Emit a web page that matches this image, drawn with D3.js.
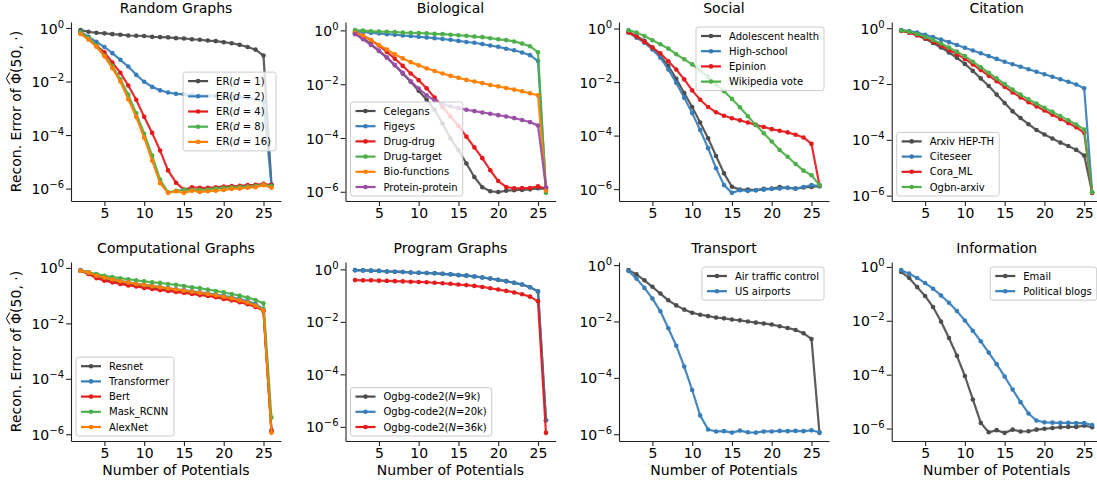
<!DOCTYPE html>
<html><head><meta charset="utf-8">
<script src="https://cdn.jsdelivr.net/npm/d3@7"></script>
<style>
body{margin:0;background:#fff}
svg{display:block}
text{font-family:"DejaVu Sans",sans-serif;fill:#000}
</style>
</head><body>
<svg id="chart" width="1097" height="486"></svg>
<script>
// ---------- data (values are log10 of the reconstruction error) ----------
const potentials = [2,3,4,5,6,7,8,9,10,11,12,13,14,15,16,17,18,19,20,21,22,23,24,25,26];
const xTickValues = [5,10,15,20,25];
const yTickExponents = [0,-2,-4,-6];
const panelTitles = ["Random Graphs","Biological","Social","Citation","Computational Graphs","Program Graphs","Transport","Information"];

// Random Graphs
const erD1Log10  = [-0.08,-0.14,-0.18,-0.2,-0.23,-0.25,-0.28,-0.29,-0.3,-0.33,-0.34,-0.35,-0.38,-0.39,-0.42,-0.44,-0.47,-0.49,-0.53,-0.57,-0.63,-0.71,-0.81,-1.03,-5.86];
const erD2Log10  = [-0.14,-0.33,-0.52,-0.71,-0.94,-1.19,-1.44,-1.75,-2.01,-2.2,-2.33,-2.41,-2.46,-2.48,-2.51,-2.52,-2.53,-2.54,-2.56,-2.57,-2.58,-2.61,-2.67,-2.76,-5.86];
const erD4Log10  = [-0.18,-0.41,-0.66,-0.91,-1.29,-1.67,-2.15,-2.68,-3.32,-3.92,-4.58,-5.32,-5.78,-6.04,-5.95,-5.97,-5.97,-5.95,-5.92,-5.91,-5.9,-5.87,-5.86,-5.82,-5.87];
const erD8Log10  = [-0.15,-0.38,-0.66,-1.04,-1.42,-1.92,-2.49,-3.19,-3.95,-4.77,-5.66,-6.14,-6.08,-6.05,-6.05,-6.05,-6.04,-6.0,-5.97,-5.95,-5.94,-5.92,-5.91,-5.85,-5.91];
const erD16Log10 = [-0.22,-0.43,-0.7,-1.06,-1.5,-2.0,-2.66,-3.33,-4.1,-4.96,-5.8,-6.16,-6.1,-6.16,-6.08,-6.13,-6.1,-6.08,-6.05,-6.01,-6.0,-5.97,-5.95,-5.87,-5.97];
// Biological
const celegansLog10       = [-0.11,-0.29,-0.51,-0.76,-1.01,-1.29,-1.61,-1.91,-2.24,-2.58,-2.95,-3.46,-4.01,-4.45,-4.95,-5.45,-5.83,-5.98,-6.01,-5.96,-5.94,-5.93,-5.91,-5.87,-5.88];
const figeysLog10         = [-0.04,-0.06,-0.09,-0.11,-0.14,-0.16,-0.19,-0.21,-0.24,-0.26,-0.29,-0.32,-0.35,-0.39,-0.43,-0.46,-0.51,-0.56,-0.61,-0.68,-0.74,-0.82,-0.92,-1.14,-5.85];
const drugDrugLog10       = [-0.08,-0.2,-0.36,-0.56,-0.8,-1.05,-1.32,-1.6,-1.85,-2.15,-2.5,-2.85,-3.2,-3.55,-3.95,-4.35,-4.75,-5.2,-5.6,-5.82,-5.87,-5.86,-5.86,-5.8,-5.88];
const drugTargetLog10     = [0.01,-0.01,-0.03,-0.04,-0.05,-0.06,-0.08,-0.09,-0.1,-0.11,-0.13,-0.14,-0.16,-0.18,-0.2,-0.23,-0.25,-0.29,-0.33,-0.36,-0.41,-0.49,-0.59,-0.81,-6.04];
const bioFunctionsLog10   = [-0.09,-0.2,-0.36,-0.54,-0.71,-0.89,-1.04,-1.18,-1.3,-1.41,-1.51,-1.6,-1.69,-1.76,-1.84,-1.9,-1.96,-2.03,-2.08,-2.14,-2.2,-2.26,-2.34,-2.41,-5.95];
const proteinProteinLog10 = [-0.14,-0.33,-0.54,-0.76,-1.01,-1.29,-1.58,-1.89,-2.16,-2.41,-2.61,-2.74,-2.83,-2.89,-2.95,-3.0,-3.05,-3.1,-3.15,-3.2,-3.26,-3.33,-3.41,-3.54,-5.83];
// Social
const adolescentLog10 = [-0.13,-0.28,-0.46,-0.71,-1.03,-1.4,-1.88,-2.41,-2.93,-3.51,-4.1,-4.76,-5.41,-5.91,-6.02,-6.02,-6.04,-5.99,-5.98,-5.92,-5.95,-5.98,-5.94,-5.92,-5.89];
const highSchoolLog10 = [-0.15,-0.34,-0.53,-0.78,-1.09,-1.53,-2.03,-2.59,-3.16,-3.79,-4.47,-5.22,-5.85,-6.14,-6.04,-6.07,-6.04,-6.02,-5.99,-5.98,-5.95,-5.98,-5.92,-5.85,-5.89];
const epinionLog10    = [-0.15,-0.3,-0.5,-0.71,-0.93,-1.22,-1.53,-1.9,-2.31,-2.66,-2.93,-3.13,-3.26,-3.35,-3.43,-3.51,-3.6,-3.68,-3.76,-3.82,-3.88,-3.97,-4.07,-4.31,-5.85];
const wikiVoteLog10   = [-0.06,-0.15,-0.28,-0.44,-0.59,-0.75,-0.96,-1.15,-1.34,-1.57,-1.8,-2.09,-2.34,-2.63,-2.94,-3.28,-3.6,-3.91,-4.22,-4.54,-4.79,-5.06,-5.31,-5.48,-5.85];
// Citation
const arxivHepThLog10 = [-0.08,-0.15,-0.25,-0.38,-0.53,-0.69,-0.87,-1.06,-1.28,-1.53,-1.8,-2.07,-2.38,-2.68,-2.98,-3.22,-3.44,-3.65,-3.81,-3.95,-4.1,-4.22,-4.36,-4.56,-5.89];
const citeseerLog10   = [-0.07,-0.1,-0.16,-0.24,-0.32,-0.41,-0.5,-0.6,-0.7,-0.8,-0.9,-1.0,-1.1,-1.2,-1.29,-1.38,-1.47,-1.56,-1.65,-1.74,-1.83,-1.92,-2.02,-2.15,-5.89];
const coraMlLog10     = [-0.1,-0.16,-0.25,-0.36,-0.48,-0.62,-0.77,-0.93,-1.1,-1.3,-1.5,-1.7,-1.9,-2.1,-2.3,-2.48,-2.65,-2.8,-2.95,-3.1,-3.25,-3.4,-3.55,-3.75,-5.9];
const ogbnArxivLog10  = [-0.08,-0.13,-0.21,-0.31,-0.42,-0.55,-0.69,-0.84,-1.0,-1.2,-1.4,-1.6,-1.8,-2.0,-2.2,-2.38,-2.55,-2.7,-2.85,-3.0,-3.15,-3.3,-3.45,-3.63,-5.88];
// Computational Graphs
const resnetLog10      = [-0.1,-0.2,-0.33,-0.42,-0.48,-0.54,-0.59,-0.63,-0.68,-0.72,-0.76,-0.79,-0.83,-0.87,-0.9,-0.94,-0.98,-1.02,-1.07,-1.13,-1.19,-1.27,-1.37,-1.55,-5.9];
const transformerLog10 = [-0.08,-0.16,-0.26,-0.34,-0.41,-0.47,-0.52,-0.57,-0.61,-0.65,-0.69,-0.73,-0.77,-0.8,-0.84,-0.88,-0.92,-0.96,-1.01,-1.06,-1.12,-1.2,-1.3,-1.5,-5.85];
const bertLog10        = [-0.1,-0.22,-0.37,-0.46,-0.52,-0.58,-0.63,-0.67,-0.72,-0.76,-0.8,-0.83,-0.87,-0.9,-0.94,-0.98,-1.01,-1.06,-1.12,-1.17,-1.24,-1.31,-1.41,-1.54,-5.88];
const maskRcnnLog10    = [-0.1,-0.16,-0.22,-0.28,-0.33,-0.37,-0.41,-0.45,-0.48,-0.52,-0.54,-0.58,-0.61,-0.65,-0.7,-0.73,-0.78,-0.83,-0.88,-0.94,-1.0,-1.07,-1.16,-1.28,-5.4];
const alexNetLog10     = [-0.1,-0.17,-0.28,-0.35,-0.42,-0.48,-0.53,-0.58,-0.62,-0.66,-0.7,-0.74,-0.78,-0.82,-0.86,-0.9,-0.94,-0.99,-1.04,-1.1,-1.17,-1.25,-1.36,-1.53,-5.95];
// Program Graphs
const code2N9kLog10  = [-0.03,-0.04,-0.05,-0.06,-0.08,-0.09,-0.1,-0.12,-0.13,-0.14,-0.15,-0.17,-0.19,-0.22,-0.24,-0.27,-0.31,-0.35,-0.4,-0.45,-0.51,-0.58,-0.68,-0.84,-5.75];
const code2N20kLog10 = [-0.03,-0.04,-0.05,-0.06,-0.08,-0.09,-0.1,-0.12,-0.13,-0.14,-0.15,-0.17,-0.19,-0.22,-0.24,-0.27,-0.31,-0.35,-0.4,-0.45,-0.51,-0.58,-0.68,-0.84,-5.75];
const code2N36kLog10 = [-0.41,-0.42,-0.42,-0.43,-0.44,-0.45,-0.46,-0.47,-0.48,-0.49,-0.51,-0.53,-0.55,-0.58,-0.6,-0.63,-0.67,-0.72,-0.77,-0.82,-0.88,-0.95,-1.04,-1.22,-6.23];
// Transport
const airTrafficLog10 = [-0.18,-0.33,-0.54,-0.77,-1.01,-1.25,-1.43,-1.58,-1.69,-1.76,-1.81,-1.86,-1.89,-1.93,-1.96,-2.0,-2.04,-2.07,-2.11,-2.17,-2.23,-2.3,-2.42,-2.62,-5.95];
const usAirportsLog10 = [-0.21,-0.48,-0.81,-1.19,-1.64,-2.24,-2.86,-3.6,-4.43,-5.33,-5.83,-5.9,-5.89,-5.94,-5.87,-5.93,-5.94,-5.9,-5.9,-5.88,-5.89,-5.88,-5.89,-5.86,-5.93];
// Information
const emailLog10          = [-0.19,-0.41,-0.75,-1.08,-1.49,-2.03,-2.64,-3.3,-4.05,-4.92,-5.79,-6.14,-6.06,-6.16,-6.04,-6.11,-6.1,-6.04,-6.01,-5.98,-5.95,-5.94,-5.94,-5.89,-5.95];
const politicalBlogsLog10 = [-0.12,-0.25,-0.41,-0.6,-0.81,-1.06,-1.33,-1.64,-1.99,-2.37,-2.76,-3.18,-3.61,-4.07,-4.55,-5.02,-5.44,-5.7,-5.77,-5.78,-5.79,-5.79,-5.8,-5.8,-5.87];

// ---------- styles ----------
const C = {grey:"#4d4d4d", blue:"#377eb8", red:"#e41a1c", green:"#4daf4a", orange:"#ff7f00", purple:"#984ea3"};
const it = s => ({t:s, i:true});
const tx = s => ({t:s, i:false});

const panels = [
  {title:panelTitles[0], legend:"center right", series:[
    {label:[tx("ER("),it("d"),tx(" = 1)")], color:C.grey, v:erD1Log10},
    {label:[tx("ER("),it("d"),tx(" = 2)")], color:C.blue, v:erD2Log10},
    {label:[tx("ER("),it("d"),tx(" = 4)")], color:C.red, v:erD4Log10},
    {label:[tx("ER("),it("d"),tx(" = 8)")], color:C.green, v:erD8Log10},
    {label:[tx("ER("),it("d"),tx(" = 16)")], color:C.orange, v:erD16Log10}]},
  {title:panelTitles[1], legend:"lower left", series:[
    {label:[tx("Celegans")], color:C.grey, v:celegansLog10},
    {label:[tx("Figeys")], color:C.blue, v:figeysLog10},
    {label:[tx("Drug-drug")], color:C.red, v:drugDrugLog10},
    {label:[tx("Drug-target")], color:C.green, v:drugTargetLog10},
    {label:[tx("Bio-functions")], color:C.orange, v:bioFunctionsLog10},
    {label:[tx("Protein-protein")], color:C.purple, v:proteinProteinLog10}]},
  {title:panelTitles[2], legend:"upper right", series:[
    {label:[tx("Adolescent health")], color:C.grey, v:adolescentLog10},
    {label:[tx("High-school")], color:C.blue, v:highSchoolLog10},
    {label:[tx("Epinion")], color:C.red, v:epinionLog10},
    {label:[tx("Wikipedia vote")], color:C.green, v:wikiVoteLog10}]},
  {title:panelTitles[3], legend:"lower left", series:[
    {label:[tx("Arxiv HEP-TH")], color:C.grey, v:arxivHepThLog10},
    {label:[tx("Citeseer")], color:C.blue, v:citeseerLog10},
    {label:[tx("Cora_ML")], color:C.red, v:coraMlLog10},
    {label:[tx("Ogbn-arxiv")], color:C.green, v:ogbnArxivLog10}]},
  {title:panelTitles[4], legend:"lower left", series:[
    {label:[tx("Resnet")], color:C.grey, v:resnetLog10},
    {label:[tx("Transformer")], color:C.blue, v:transformerLog10},
    {label:[tx("Bert")], color:C.red, v:bertLog10},
    {label:[tx("Mask_RCNN")], color:C.green, v:maskRcnnLog10},
    {label:[tx("AlexNet")], color:C.orange, v:alexNetLog10}]},
  {title:panelTitles[5], legend:"lower left", series:[
    {label:[tx("Ogbg-code2("),it("N"),tx("=9k)")], color:C.grey, v:code2N9kLog10},
    {label:[tx("Ogbg-code2("),it("N"),tx("=20k)")], color:C.blue, v:code2N20kLog10},
    {label:[tx("Ogbg-code2("),it("N"),tx("=36k)")], color:C.red, v:code2N36kLog10}]},
  {title:panelTitles[6], legend:"upper right", series:[
    {label:[tx("Air traffic control")], color:C.grey, v:airTrafficLog10},
    {label:[tx("US airports")], color:C.blue, v:usAirportsLog10}]},
  {title:panelTitles[7], legend:"upper right", series:[
    {label:[tx("Email")], color:C.grey, v:emailLog10},
    {label:[tx("Political blogs")], color:C.blue, v:politicalBlogsLog10}]}
];

// ---------- layout ----------
const colLeft = [71, 345.5, 619, 891.7];
const rowTop = [22, 262];
const W = 210, H = 179;
const svg = d3.select("#chart");

panels.forEach((p, idx) => {
  const col = idx % 4, row = Math.floor(idx / 4);
  const left = colLeft[col], top = rowTop[row];
  const g = svg.append("g");

  const all = p.series.flatMap(s => s.v);
  const lo = d3.min(all), hi = d3.max(all), pad = (hi - lo) * 0.05;
  const x = d3.scaleLinear().domain([0.8, 27.2]).range([left, left + W]);
  const y = d3.scaleLog().domain([Math.pow(10, lo - pad), Math.pow(10, hi + pad)]).range([top + H, top]);

  // axes
  const gx = g.append("g").attr("transform", `translate(0,${top + H})`)
    .call(d3.axisBottom(x).tickValues(xTickValues).tickSize(4.9).tickSizeOuter(0).tickPadding(2.2));
  gx.selectAll("text").attr("font-size", 14).attr("font-family", "DejaVu Sans");
  const gy = g.append("g").attr("transform", `translate(${left},0)`)
    .call(d3.axisLeft(y).tickValues(yTickExponents.map(e => Math.pow(10, e))).tickSize(4.9).tickSizeOuter(0).tickPadding(2.1).tickFormat(() => ""));
  gy.selectAll(".tick text").each(function(d) {
    const t = d3.select(this).attr("font-size", 14).attr("font-family", "DejaVu Sans").attr("dy", "0.36em").text(null);
    const e = Math.round(Math.log10(d));
    t.append("tspan").text("10");
    t.append("tspan").attr("font-size", 10).attr("dy", -6).text(e === 0 ? "0" : "\u2212" + Math.abs(e));
  });
  [gx, gy].forEach(a => {
    a.select(".domain").attr("stroke", "#222").attr("stroke-width", 1.1);
    a.selectAll(".tick line").attr("stroke", "#222").attr("stroke-width", 1.1);
  });

  // title
  g.append("text").attr("x", left + W / 2).attr("y", top - 8.6).attr("text-anchor", "middle")
    .attr("font-size", 14).text(p.title);

  // series
  const line = d3.line().x((d, i) => x(potentials[i])).y(d => y(Math.pow(10, d)));
  p.series.forEach(s => {
    const sg = g.append("g");
    sg.append("path").datum(s.v).attr("d", line).attr("fill", "none")
      .attr("stroke", s.color).attr("stroke-width", 2.2).attr("stroke-linejoin", "round").attr("opacity", 0.92);
    sg.selectAll("circle").data(s.v).join("circle")
      .attr("cx", (d, i) => x(potentials[i])).attr("cy", d => y(Math.pow(10, d)))
      .attr("r", 2.3).attr("fill", s.color);
  });

  // legend
  const lg = g.append("g");
  const pitch = 15.2;
  const n = p.series.length;
  const textNodes = p.series.map(s => {
    const t = lg.append("text").attr("font-size", 10).attr("dy", "0.35em");
    s.label.forEach(part => t.append("tspan").attr("font-style", part.i ? "italic" : null).text(part.t));
    return t;
  });
  const maxW = d3.max(textNodes, t => t.node().getComputedTextLength());
  const bw = 5 + 20 + 8 + maxW + 5, bh = 18 + (n - 1) * pitch;
  let bx, by;
  if (p.legend === "upper right") { bx = left + W - 5 - bw; by = top + 5; }
  else if (p.legend === "lower left") { bx = left + 5; by = top + H - 5 - bh; }
  else { bx = left + W - 5 - bw; by = top + H / 2 - bh / 2; }
  lg.insert("rect", ":first-child").attr("x", bx).attr("y", by).attr("width", bw).attr("height", bh)
    .attr("rx", 2.5).attr("fill", "#fff").attr("fill-opacity", 0.8).attr("stroke", "#cccccc").attr("stroke-width", 1);
  p.series.forEach((s, i) => {
    const cy = by + 9 + i * pitch;
    lg.append("line").attr("x1", bx + 5).attr("x2", bx + 25).attr("y1", cy).attr("y2", cy)
      .attr("stroke", s.color).attr("stroke-width", 2.2);
    lg.append("circle").attr("cx", bx + 15).attr("cy", cy).attr("r", 2.3).attr("fill", s.color);
    textNodes[i].attr("x", bx + 33).attr("y", cy);
  });

  // axis labels
  if (col === 0) {
    const yl = g.append("g").attr("transform", `translate(21,${top + H / 2}) rotate(-90)`);
    const lab = yl.append("text").attr("text-anchor", "middle").attr("font-size", 14)
      .text("Recon. Error of \u03A6(50, \u00B7)");
    // wide hat over the Phi
    const phiIndex = "Recon. Error of ".length;
    let hx0, hw;
    try {
      const ext = lab.node().getExtentOfChar(phiIndex);
      hx0 = ext.x; hw = ext.width;
    } catch (e) { hx0 = 8; hw = 11; }
    yl.append("path")
      .attr("d", `M${hx0 - 0.5},-11.2 L${hx0 + hw / 2},-14.6 L${hx0 + hw + 0.5},-11.2`)
      .attr("fill", "none").attr("stroke", "#000").attr("stroke-width", 1);
  }
  if (row === 1) {
    g.append("text").attr("x", left + W / 2).attr("y", top + H + 34).attr("text-anchor", "middle")
      .attr("font-size", 14).text("Number of Potentials");
  }
});
</script>
</body></html>
